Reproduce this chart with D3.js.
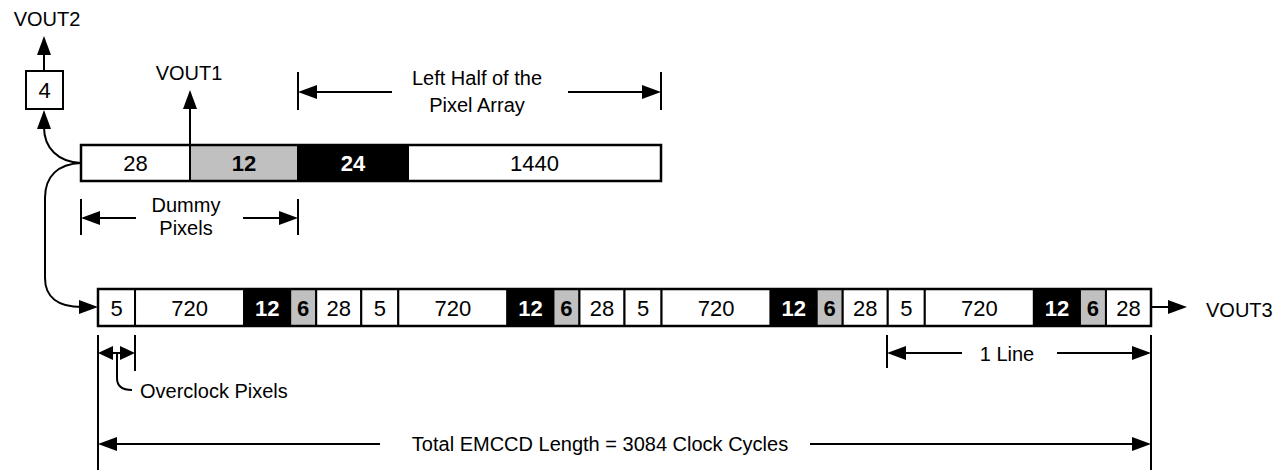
<!DOCTYPE html>
<html>
<head>
<meta charset="utf-8">
<script src="https://cdn.jsdelivr.net/npm/d3@7"></script>
<style>
  body { margin: 0; background: #fff; }
  svg { display: block; font-family: "Liberation Sans", Arial, Helvetica, sans-serif; }
</style>
</head>
<body>
<svg class="chart"></svg>
<script>
// register cells (labels are pixel counts, kinds decide the shading)
let topCells = ['28', '12', '24', '1440']
let topKinds = ['dummy', 'buffer', 'dark', 'active']
let lineCells = ['5', '720', '12', '6', '28']
let lineKinds = ['overclock', 'active', 'dark', 'buffer', 'dummy']
let lineCount = 4
let vout2Cells = ['4']
let outputs = ['VOUT1', 'VOUT2', 'VOUT3']
let dimLabels = [['Left Half of the', 'Pixel Array'], ['Dummy', 'Pixels'], ['1 Line'],
                 ['Total EMCCD Length = 3084 Clock Cycles'], ['Overclock Pixels']]

window.onload = function() {
    let width = 1288,
        height = 470

    let svg = d3.select('.chart')
        .attr('width', width)
        .attr('height', height)

    let fill = d3.scaleOrdinal()
        .domain(['overclock', 'dummy', 'active', 'buffer', 'dark'])
        .range(['#fff', '#fff', '#fff', '#c0c0c0', '#000'])

    // drawn widths are not proportional to pixel counts
    let topWidth = d3.scaleOrdinal().domain(topKinds).range([109, 108, 110, 253])
    let lineWidth = d3.scaleOrdinal().domain(lineKinds).range([37, 109, 46, 26, 45])

    function layout(labels, kinds, w) {
        let pos = 0
        return labels.map((label, i) => {
            let c = {label: label, kind: kinds[i], start: pos, w: w(kinds[i])}
            pos += c.w
            return c
        })
    }

    let top = layout(topCells, topKinds, topWidth)
    let bottom = layout(
        d3.range(lineCount).flatMap(() => lineCells),
        d3.range(lineCount).flatMap(() => lineKinds), lineWidth)

    let xTop = d3.scaleLinear()
        .domain([0, d3.sum(top, (d) => d.w)])
        .range([81, 661])
    let xBot = d3.scaleLinear()
        .domain([0, d3.sum(bottom, (d) => d.w)])
        .range([98, 1151])

    function drawBar(cells, x, y0, h) {
        let g = svg.append('g')
        g.selectAll('rect.cell')
            .data(cells)
        .enter().append('rect')
            .attr('class', 'cell')
            .attr('x', (d) => x(d.start))
            .attr('y', y0)
            .attr('width', (d) => x(d.start + d.w) - x(d.start))
            .attr('height', h)
            .attr('fill', (d) => fill(d.kind))
            .attr('stroke', '#000')
            .attr('stroke-width', 2)
        g.append('rect')
            .attr('x', x.range()[0])
            .attr('y', y0)
            .attr('width', x.range()[1] - x.range()[0])
            .attr('height', h)
            .attr('fill', 'none')
            .attr('stroke', '#000')
            .attr('stroke-width', 2.5)
        g.selectAll('text')
            .data(cells)
        .enter().append('text')
            .attr('x', (d) => x(d.start + d.w / 2))
            .attr('y', y0 + h / 2 + 8)
            .attr('text-anchor', 'middle')
            .attr('font-size', 22)
            .attr('font-weight', (d) => (d.kind == 'dark' || d.kind == 'buffer') ? 'bold' : 'normal')
            .attr('fill', (d) => d.kind == 'dark' ? '#fff' : '#000')
            .text((d) => d.label)
    }

    drawBar(top, xTop, 145, 36)
    drawBar(bottom, xBot, 289, 37)

    function line(pts) {
        svg.append('path')
            .attr('d', d3.line()(pts))
            .attr('fill', 'none')
            .attr('stroke', '#000')
            .attr('stroke-width', 2)
    }
    function curve(d) {
        svg.append('path')
            .attr('d', d)
            .attr('fill', 'none')
            .attr('stroke', '#000')
            .attr('stroke-width', 2)
    }
    function head(x, y, dir, len, half) {
        len = len || 19
        half = half || 7
        let pts
        if (dir == 'right') pts = [[x, y], [x - len, y - half], [x - len, y + half]]
        if (dir == 'left') pts = [[x, y], [x + len, y - half], [x + len, y + half]]
        if (dir == 'up') pts = [[x, y], [x - half, y + len], [x + half, y + len]]
        svg.append('path')
            .attr('d', d3.line()(pts) + 'Z')
            .attr('fill', '#000')
    }
    function label(lines, x, y, step, anchor) {
        let t = svg.append('text')
            .attr('x', x)
            .attr('y', y)
            .attr('text-anchor', anchor || 'middle')
            .attr('font-size', 20)
        lines.forEach((s, i) => {
            t.append('tspan').attr('x', x).attr('dy', i == 0 ? 0 : step).text(s)
        })
    }
    function dim(x1, x2, y, gapL, gapR, tickTop, tickBot) {
        line([[x1, tickTop], [x1, tickBot]])
        line([[x2, tickTop], [x2, tickBot]])
        head(x1, y, 'left')
        head(x2, y, 'right')
        line([[x1 + 16, y], [gapL, y]])
        line([[gapR, y], [x2 - 16, y]])
    }

    // VOUT2 branch with the 4-pixel register
    let box = {x: 26, y: 71, w: 37, h: 38}
    svg.append('rect')
        .attr('x', box.x).attr('y', box.y)
        .attr('width', box.w).attr('height', box.h)
        .attr('fill', '#fff').attr('stroke', '#000').attr('stroke-width', 2)
    svg.append('text')
        .attr('x', box.x + box.w / 2).attr('y', box.y + box.h / 2 + 8)
        .attr('text-anchor', 'middle').attr('font-size', 22)
        .text(vout2Cells[0])
    curve('M81,163 C58,162 44,148 44,127')
    head(44, 110, 'up')
    line([[44, 71], [44, 52]])
    head(44, 36, 'up')
    label([outputs[1]], 47, 26)

    // VOUT1
    line([[190, 145], [190, 106]])
    head(190, 90, 'up')
    label([outputs[0]], 189, 80)

    // feed into the EMCCD register
    curve('M81,163 C58,164 45,176 45,198 L45,278 C45,297 58,307 82,307')
    head(98, 307, 'right')

    // VOUT3
    line([[1151, 307], [1170, 307]])
    head(1187, 307, 'right')
    label([outputs[2]], 1206, 317, 0, 'start')

    // dimension callouts
    dim(298, 661, 92, 392, 568, 72, 110)
    label(dimLabels[0], 477, 85, 27)
    dim(81, 298, 218, 136, 243, 199, 235)
    label(dimLabels[1], 186, 212, 23)
    dim(887, 1151, 353, 962, 1057, 335, 368)
    label(dimLabels[2], 1007, 361)

    // total length: long verticals down to the bottom
    line([[98, 335], [98, 470]])
    line([[1151, 335], [1151, 470]])
    head(98, 444, 'left')
    head(1151, 444, 'right')
    line([[114, 444], [380, 444]])
    line([[810, 444], [1135, 444]])
    label(dimLabels[3], 600, 451)

    // overclock pixels
    line([[135, 335], [135, 371]])
    head(98, 353, 'left', 15, 7)
    head(135, 353, 'right', 15, 7)
    line([[113, 353], [120, 353]])
    curve('M117,353 L117,378 Q117,390 132,390')
    label(dimLabels[4], 140, 398, 0, 'start')
}
</script>
</body>
</html>
